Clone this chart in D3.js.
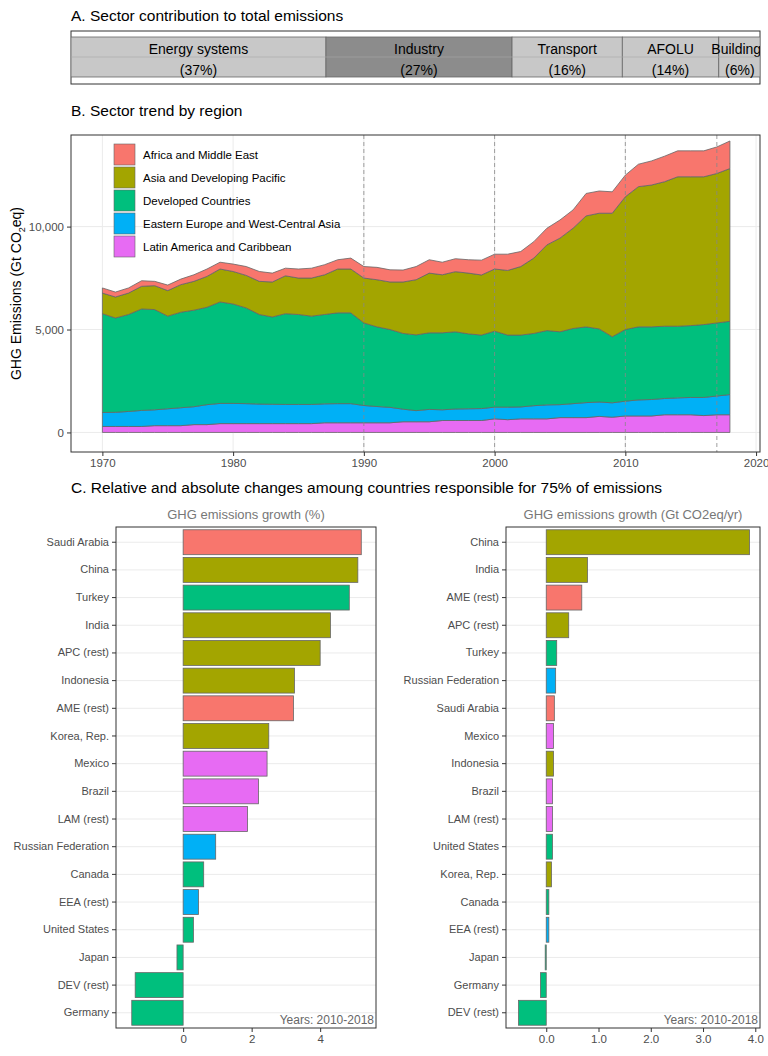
<!DOCTYPE html>
<html><head><meta charset="utf-8">
<script src="https://cdn.jsdelivr.net/npm/d3@7"></script>
<style>body{margin:0;background:#fff;font-family:Arial,"Liberation Sans",sans-serif}</style>
</head><body><svg id="c" width="768" height="1056"></svg>
<script>
// data
const sectors = ["Energy systems","Industry","Transport","AFOLU","Buildings"]
const sectorShare = [37,27,16,14,6]
const regions = ["Africa and Middle East","Asia and Developing Pacific","Developed Countries","Eastern Europe and West-Central Asia","Latin America and Caribbean"]
const regionColors = ["#F8766D","#A3A500","#00BF7D","#00B0F6","#E76BF3"]
const years = d3.range(1970, 2019)
// cumulative stack tops (bottom layer first)
const topLAM = [290,290,290,290,330,330,330,380,380,430,430,430,430,430,430,430,430,470,470,470,470,470,470,520,520,520,580,580,580,580,660,620,660,660,660,720,720,720,780,740,800,800,800,860,860,860,820,860,860]
const topEEA = [970,980,1020,1070,1100,1150,1200,1250,1350,1410,1410,1400,1380,1370,1360,1360,1360,1390,1400,1400,1310,1260,1220,1130,1060,1120,1100,1140,1150,1160,1230,1230,1240,1300,1340,1350,1400,1450,1480,1440,1520,1580,1600,1650,1680,1700,1700,1770,1840]
const topDEV = [5770,5560,5730,6000,5970,5650,5840,5940,6080,6340,6240,6050,5730,5610,5770,5730,5650,5730,5810,5810,5320,5130,5000,4810,4740,4840,4840,4890,4790,4730,4920,4730,4730,4810,4950,4890,5050,5130,5030,4650,5000,5130,5130,5160,5160,5190,5240,5320,5400]
const topAPC = [6770,6580,6770,7100,7130,6890,7180,7340,7580,7940,7820,7630,7340,7310,7610,7500,7500,7660,7940,7940,7500,7420,7310,7310,7420,7740,7660,7810,7740,7650,7940,7870,8060,8470,9110,9440,9920,10520,10650,10650,11450,11940,12020,12180,12420,12420,12420,12580,12820]
const topAME = [7020,6820,7020,7370,7340,7160,7450,7660,7940,8270,8180,8060,7820,7740,7980,7940,7980,8150,8390,8470,8060,8020,7900,7890,8060,8390,8270,8440,8390,8370,8660,8660,8790,9270,9920,10320,10810,11610,11730,11690,12500,13030,13190,13420,13680,13680,13680,13870,14160]
const markYears = [1990,2000,2010,2017]

const pctCountries = ["Saudi Arabia","China","Turkey","India","APC (rest)","Indonesia","AME (rest)","Korea, Rep.","Mexico","Brazil","LAM (rest)","Russian Federation","Canada","EEA (rest)","United States","Japan","DEV (rest)","Germany"]
const pctValues = [5.2,5.1,4.85,4.3,4.0,3.25,3.22,2.5,2.45,2.2,1.88,0.95,0.6,0.45,0.3,-0.18,-1.4,-1.5]
const pctRegion = [0,1,2,1,1,1,0,1,4,4,4,3,2,3,2,2,2,2]
const absCountries = ["China","India","AME (rest)","APC (rest)","Turkey","Russian Federation","Saudi Arabia","Mexico","Indonesia","Brazil","LAM (rest)","United States","Korea, Rep.","Canada","EEA (rest)","Japan","Germany","DEV (rest)"]
const absValues = [3.89,0.79,0.68,0.43,0.2,0.18,0.155,0.14,0.14,0.12,0.12,0.12,0.1,0.05,0.05,-0.02,-0.11,-0.53]
const absRegion = [1,1,0,1,2,3,0,4,1,4,4,2,1,2,3,2,2,2]

const svg = d3.select("#c")
const title = (x,y,t) => svg.append("text").attr("x",x).attr("y",y).attr("font-size",15.5).attr("fill","#000").text(t)

// Panel A
title(71,21,"A. Sector contribution to total emissions")
svg.append("rect").attr("x",71).attr("y",31).attr("width",689).attr("height",53).attr("fill","none").attr("stroke","#333")
const total = d3.sum(sectorShare)
const xa = d3.scaleLinear().domain([0,100]).range([71,801])
let acc = 0
const ga = svg.append("g")
ga.append("defs").append("clipPath").attr("id","clipA").append("rect").attr("x",71).attr("y",31).attr("width",689).attr("height",53)
const gA = ga.append("g").attr("clip-path","url(#clipA)")
sectors.forEach((s,i) => {
  const x0 = xa(acc), x1 = xa(acc + sectorShare[i]*100/total*0.944)
  acc += sectorShare[i]*100/total*0.944
  gA.append("rect").attr("x",x0).attr("y",37).attr("width",x1-x0).attr("height",40)
    .attr("fill", i==1 ? "#8c8c8c" : "#c8c8c8").attr("stroke","#666").attr("stroke-width",0.8)
  const cx = i==4 ? x0+21 : (x0+x1)/2
  gA.append("text").attr("x",cx).attr("y",54).attr("text-anchor","middle").attr("font-size",14).text(s)
  gA.append("text").attr("x",cx).attr("y",75).attr("text-anchor","middle").attr("font-size",14).text("("+sectorShare[i]+"%)")
})
gA.append("line").attr("x1",71).attr("x2",760).attr("y1",57).attr("y2",57).attr("stroke","#aaa").attr("stroke-width",0.6)

// Panel B
title(71,116,"B. Sector trend by region")
const mB = {l:71,r:760,t:135,b:452}
const x = d3.scaleLinear().domain([1967.6,2020.3]).range([mB.l,mB.r])
const y = d3.scaleLinear().domain([-950,14450]).range([mB.b,mB.t])
const gB = svg.append("g")
y.ticks(3).forEach(v => gB.append("line").attr("x1",mB.l).attr("x2",mB.r).attr("y1",y(v)).attr("y2",y(v)).attr("stroke","#ebebeb"))
;[1970,1980,1990,2000,2010,2020].forEach(v => gB.append("line").attr("y1",mB.t).attr("y2",mB.b).attr("x1",x(v)).attr("x2",x(v)).attr("stroke","#ebebeb"))
const tops = [topLAM, topEEA, topDEV, topAPC, topAME]
const layerColors = [regionColors[4],regionColors[3],regionColors[2],regionColors[1],regionColors[0]]
tops.forEach((t,k) => {
  const area = d3.area().x((d,i)=>x(years[i])).y0((d,i)=> k==0 ? y(0) : y(tops[k-1][i])).y1(d=>y(d))
  gB.append("path").datum(t).attr("d",area).attr("fill",layerColors[k]).attr("stroke","#666").attr("stroke-width",0.8)
})
markYears.forEach(v => gB.append("line").attr("x1",x(v)).attr("x2",x(v)).attr("y1",mB.t).attr("y2",mB.b).attr("stroke","#888").attr("stroke-dasharray","4,3").attr("stroke-width",0.8))
gB.append("rect").attr("x",mB.l).attr("y",mB.t).attr("width",mB.r-mB.l).attr("height",mB.b-mB.t).attr("fill","none").attr("stroke","#333")
const axB = gB.append("g").attr("transform",`translate(0,${mB.b})`).call(d3.axisBottom(x).tickValues([1970,1980,1990,2000,2010,2020]).tickFormat(d3.format("d")).tickSize(4))
const ayB = gB.append("g").attr("transform",`translate(${mB.l},0)`).call(d3.axisLeft(y).tickValues([0,5000,10000]).tickSize(4))
;[axB,ayB].forEach(a => { a.select(".domain").remove(); a.selectAll("text").attr("fill","#4d4d4d").attr("font-size",11.5); a.selectAll("line").attr("stroke","#333") })
const yl = svg.append("text").attr("transform",`translate(21,${(mB.t+mB.b)/2}) rotate(-90)`).attr("text-anchor","middle").attr("font-size",14)
yl.append("tspan").text("GHG Emissions (Gt CO")
yl.append("tspan").attr("font-size",9).attr("dy",4).text("2")
yl.append("tspan").attr("dy",-4).text("eq)")
regions.forEach((r,i) => {
  gB.append("rect").attr("x",114).attr("y",144+i*23).attr("width",21).attr("height",21).attr("fill",regionColors[i]).attr("stroke","#666").attr("stroke-width",0.6)
  gB.append("text").attr("x",143).attr("y",159+i*23).attr("font-size",11.5).text(r)
})

// Panel C
title(71,493,"C. Relative and absolute changes amoung countries responsible for 75% of emissions")
function barPanel(names, vals, regs, l, r, dom, ticks, sub) {
  const t = 527, b = 1028
  const xs = d3.scaleLinear().domain(dom).range([l,r])
  const ys = d3.scaleBand().domain(names).range([t,b]).padding(0.1)
  const g = svg.append("g")
  names.forEach(n => g.append("line").attr("x1",l).attr("x2",r).attr("y1",ys(n)+ys.bandwidth()/2).attr("y2",ys(n)+ys.bandwidth()/2).attr("stroke","#ebebeb"))
  g.selectAll("rect.bar").data(vals).join("rect").attr("class","bar")
    .attr("x",d=>xs(Math.min(0,d))).attr("width",d=>Math.abs(xs(d)-xs(0)))
    .attr("y",(d,i)=>ys(names[i])).attr("height",ys.bandwidth())
    .attr("fill",(d,i)=>regionColors[regs[i]]).attr("stroke","#666").attr("stroke-width",0.8)
  g.append("rect").attr("x",l).attr("y",t).attr("width",r-l).attr("height",b-t).attr("fill","none").attr("stroke","#333")
  const ax = g.append("g").attr("transform",`translate(0,${b})`).call(d3.axisBottom(xs).tickValues(ticks).tickSize(4))
  const ay = g.append("g").attr("transform",`translate(${l},0)`).call(d3.axisLeft(ys).tickSize(4))
  ;[ax,ay].forEach(a => { a.select(".domain").remove(); a.selectAll("text").attr("fill","#4d4d4d").attr("font-size",11); a.selectAll("line").attr("stroke","#333") })
  ax.selectAll("text").attr("font-size",11.5)
  g.append("text").attr("x",r-2).attr("y",b-4).attr("text-anchor","end").attr("font-size",12).attr("fill","#666").text("Years: 2010-2018")
  g.append("text").attr("x",(l+r)/2).attr("y",519).attr("text-anchor","middle").attr("font-size",13).attr("fill","#777").text(sub)
}
barPanel(pctCountries, pctValues, pctRegion, 116, 376, [-1.96,5.63], [0,2,4], "GHG emissions growth (%)")
barPanel(absCountries, absValues, absRegion, 506, 760, [-0.77,4.09], [0,1,2,3,4], "GHG emissions growth (Gt CO2eq/yr)")
</script></body></html>
